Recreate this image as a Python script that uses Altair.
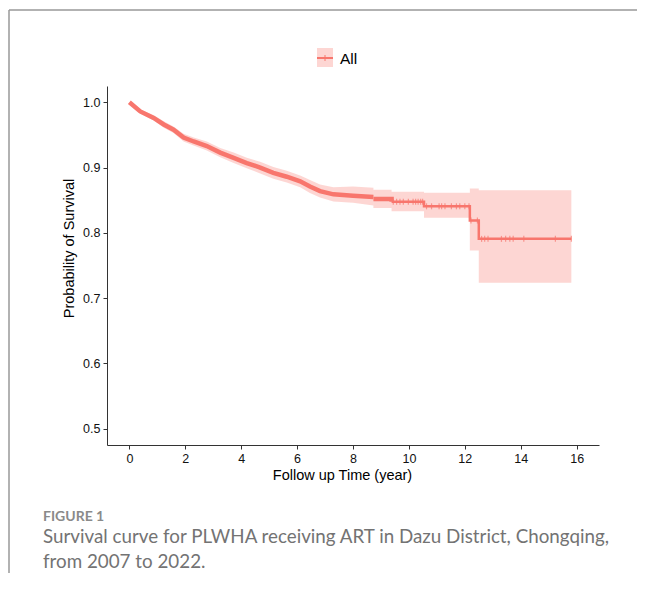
import altair as alt
import pandas as pd

# Smooth (densely stepped) early part of the Kaplan-Meier curve
smooth_t  = [0, 0.39, 0.87, 1.23, 1.58, 1.94, 2.30, 2.77, 3.25, 3.73, 4.20, 4.68, 5.15, 5.63, 6.11, 6.46, 6.82, 7.30, 8.00, 8.73]
smooth_s  = [1.0, 0.986, 0.976, 0.966, 0.958, 0.946, 0.940, 0.933, 0.923, 0.915, 0.907, 0.900, 0.892, 0.886, 0.879, 0.871, 0.864, 0.859, 0.857, 0.855]
smooth_lo = [1.0, 0.983, 0.972, 0.961, 0.953, 0.940, 0.934, 0.926, 0.916, 0.907, 0.899, 0.891, 0.883, 0.877, 0.870, 0.861, 0.854, 0.848, 0.846, 0.842]
smooth_hi = [1.0, 0.989, 0.980, 0.971, 0.963, 0.952, 0.946, 0.940, 0.930, 0.923, 0.915, 0.909, 0.901, 0.895, 0.888, 0.881, 0.874, 0.870, 0.871, 0.869]

# Visible steps in the later part
step_t  = [8.73, 9.38, 10.54, 12.18, 12.50, 15.81]
step_s  = [0.852, 0.8475, 0.8407, 0.8188, 0.7908, 0.7908]
step_lo = [0.838, 0.833, 0.823, 0.7729, 0.7234, 0.7234]
step_hi = [0.866, 0.8628, 0.8613, 0.8678, 0.8652, 0.8652]

# Censoring marks (visible ones)
censor_t = [9.44, 9.56, 9.68, 9.80, 9.98, 10.15, 10.24, 10.33, 10.42, 10.49,
            10.63, 10.81, 11.08, 11.17, 11.29, 11.52, 11.70, 11.82, 12.00, 12.15,
            12.22, 12.45,
            12.60, 12.71, 12.83, 13.31, 13.46, 13.61, 13.73, 14.11, 15.24, 15.81]

x_ticks = [0, 2, 4, 6, 8, 10, 12, 14, 16]
y_ticks = [0.5, 0.6, 0.7, 0.8, 0.9, 1.0]

RED = "#F8766D"

smooth_df = pd.DataFrame({"t": smooth_t, "s": smooth_s, "lo": smooth_lo, "hi": smooth_hi})
step_df = pd.DataFrame({"t": step_t, "s": step_s, "lo": step_lo, "hi": step_hi})


def surv_at(t):
    v = step_s[0]
    for tt, ss in zip(step_t, step_s):
        if t >= tt:
            v = ss
    return v


censor_df = pd.DataFrame({"t": censor_t, "s": [surv_at(t) for t in censor_t]})

xs = alt.Scale(domain=[-0.8, 16.8], nice=False, zero=False)
ys = alt.Scale(domain=[0.475, 1.025], nice=False, zero=False)

xenc = alt.X("t:Q", scale=xs, axis=alt.Axis(values=x_ticks, title="Follow up Time (year)",
                                             titleX=235, titleY=34, titleBaseline="alphabetic",
                                             format="d"))
yenc = alt.Y("s:Q", scale=ys, axis=alt.Axis(values=y_ticks, title="Probability of Survival",
                                             format=".1f", titleX=-38, titleY=162,
                                             titleBaseline="middle", titleAngle=-90))

band_smooth = alt.Chart(smooth_df).mark_area(color=RED, opacity=0.3, interpolate="linear").encode(
    x=xenc, y=alt.Y("lo:Q", scale=ys), y2="hi:Q")
band_step = alt.Chart(step_df).mark_area(color=RED, opacity=0.3, interpolate="step-after").encode(
    x=alt.X("t:Q", scale=xs), y=alt.Y("lo:Q", scale=ys), y2="hi:Q")

line_smooth = alt.Chart(smooth_df).mark_line(color=RED, strokeWidth=4.5, interpolate="linear").encode(
    x=alt.X("t:Q", scale=xs), y=yenc)
line_step_thick = alt.Chart(step_df).transform_filter("datum.t <= 9.38").mark_line(
    color=RED, strokeWidth=4.5, interpolate="step-after").encode(
    x=alt.X("t:Q", scale=xs), y=alt.Y("s:Q", scale=ys))
line_step_thin = alt.Chart(step_df).transform_filter("datum.t >= 9.38").mark_line(
    color=RED, strokeWidth=2.5, interpolate="step-after").encode(
    x=alt.X("t:Q", scale=xs), y=alt.Y("s:Q", scale=ys))

censors = alt.Chart(censor_df).mark_tick(color=RED, orient="vertical", size=6, thickness=1.2).encode(
    x=alt.X("t:Q", scale=xs), y=alt.Y("s:Q", scale=ys))

one = alt.Data(values=[{"k": 1}])

# Manual legend
leg_box = alt.Chart(one).mark_rect(color=RED, opacity=0.3).encode(
    x=alt.value(210), x2=alt.value(226), y=alt.value(-38), y2=alt.value(-19))
leg_line = alt.Chart(one).mark_rule(color=RED, strokeWidth=2).encode(
    x=alt.value(210), x2=alt.value(226), y=alt.value(-28))
leg_tick = alt.Chart(one).mark_rule(color=RED, strokeWidth=1).encode(
    x=alt.value(218), y=alt.value(-31), y2=alt.value(-25))
leg_text = alt.Chart(one).mark_text(align="left", baseline="alphabetic", font="Liberation Sans",
                                    fontSize=15.5, color="#000").encode(
    x=alt.value(233), y=alt.value(-22.5), text=alt.value("All"))

# Frame lines
frame_top = alt.Chart(one).mark_rule(color="#999999", strokeWidth=1.5).encode(
    x=alt.value(-98), x2=alt.value(545), y=alt.value(-76))
frame_left = alt.Chart(one).mark_rule(color="#999999", strokeWidth=1.5).encode(
    x=alt.value(-98), y=alt.value(-76), y2=alt.value(520))

# Caption
cap_fig = alt.Chart(one).mark_text(align="left", baseline="alphabetic", font="Lato", fontWeight="bold",
                                   fontSize=14, color="#8a8a8a").encode(
    x=alt.value(-64), y=alt.value(435), text=alt.value("FIGURE 1"))
cap_l1 = alt.Chart(one).mark_text(align="left", baseline="alphabetic", font="Lato",
                                  fontSize=18.8, color="#737373").encode(
    x=alt.value(-64), y=alt.value(457),
    text=alt.value("Survival curve for PLWHA receiving ART in Dazu District, Chongqing,"))
cap_l2 = alt.Chart(one).mark_text(align="left", baseline="alphabetic", font="Lato",
                                  fontSize=18.8, color="#737373").encode(
    x=alt.value(-64), y=alt.value(482), text=alt.value("from 2007 to 2022."))

chart = alt.layer(
    band_smooth, band_step, line_smooth, line_step_thick, line_step_thin, censors,
    leg_box, leg_line, leg_tick, leg_text, frame_top, frame_left, cap_fig, cap_l1, cap_l2
).properties(
    width=492, height=359,
    background="white",
    autosize=alt.AutoSizeParams(type="none"),
    padding={"left": 99, "top": 78, "right": 38, "bottom": 128},
).configure_view(stroke=None).configure_axis(
    grid=False, domainColor="#333333", tickColor="#333333", tickSize=4, domainWidth=1, tickWidth=1,
    labelFont="Liberation Sans", labelFontSize=12.5, labelColor="#111111", labelPadding=3,
    titleFont="Liberation Sans", titleFontSize=14.5, titleFontWeight="normal", titleColor="#000000",
)

chart.save("out.html", embed_options={"renderer": "svg", "actions": False})
